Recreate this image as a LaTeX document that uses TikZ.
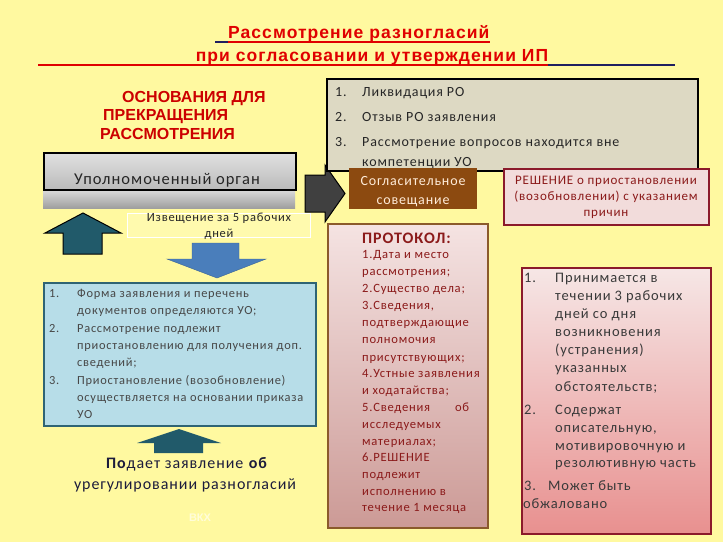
\documentclass[tikz,border=0pt]{standalone}
\usepackage{fontspec}
\setmainfont[LetterSpace=6]{Carlito}
\newfontfamily\titlefont[LetterSpace=6]{Liberation Sans}
\newfontfamily\headfont{Liberation Sans}
\definecolor{bgyel}{HTML}{FFF9A0}
\definecolor{titred}{HTML}{E00000}
\definecolor{navy}{HTML}{1F1F5F}
\definecolor{headred}{HTML}{CC0000}
\definecolor{teal}{HTML}{215A6A}
\definecolor{arrblue}{HTML}{4A7EBB}
\definecolor{lblue}{HTML}{B7DDE8}
\definecolor{lblueedge}{HTML}{2F6474}
\definecolor{beige}{HTML}{DDD9C3}
\definecolor{brownbox}{HTML}{8C4A10}
\definecolor{brownedge}{HTML}{8B5A2B}
\definecolor{pinkfill}{HTML}{F2DCDB}
\definecolor{wine}{HTML}{8B1A2B}
\definecolor{dred}{HTML}{8B1A1A}
\definecolor{txtgray}{HTML}{3A3A3A}
\definecolor{navytxt}{HTML}{1C1C3C}
\tikzset{
  box/.style={draw, line width=1.8pt, inner sep=0pt, anchor=north west},
  tl/.style={anchor=base west, inner sep=0pt},
  tc/.style={anchor=base, inner sep=0pt},
  arrowshape/.style={line width=1pt, line join=miter},
}
\begin{document}
\begin{tikzpicture}[x=1pt,y=-1pt]
\fill[bgyel] (0,0) rectangle (723,542);
\useasboundingbox (0,0) rectangle (723,542);

% title
\node[tl, font=\titlefont\bfseries\fontsize{17.5}{20}\selectfont, text=titred] (t1) at (228,38) {Рассмотрение разногласий};
\node[tc, font=\titlefont\bfseries\fontsize{17.5}{20}\selectfont, text=titred] (t2) at (372,61) {при согласовании и утверждении ИП};
\coordinate (u1a) at (215,42); \coordinate (u1b) at (228,42); \coordinate (u1c) at (t1.east |- u1a);
\draw[navy, line width=1.3pt] (u1a) -- (u1b);
\draw[titred, line width=1.3pt] (u1b) -- (u1c);
\coordinate (u2a) at (38,65); \coordinate (u2b) at (548,65); \coordinate (u2c) at (675,65);
\draw[titred, line width=1.3pt] (u2a) -- (u2b);
\draw[navy, line width=1.3pt] (u2b) -- (u2c);

% heading left
\node[tl, font=\headfont\bfseries\fontsize{16}{18}\selectfont, text=headred] (h1) at (122,102) {ОСНОВАНИЯ ДЛЯ};
\node[tl, font=\headfont\bfseries\fontsize{16}{18}\selectfont, text=headred] (h2) at (103,120) {ПРЕКРАЩЕНИЯ};
\node[tl, font=\headfont\bfseries\fontsize{16}{18}\selectfont, text=headred] (h3) at (100,139) {РАССМОТРЕНИЯ};

% dark right arrow (behind boxes)
\fill[black!75, draw=black, arrowshape] (305,175) -- (325,175) -- (325,165) -- (345,193.5) -- (325,222) -- (325,212) -- (305,212) -- cycle;

% authority box
\node[inner sep=0pt, anchor=north west, minimum width=252pt, minimum height=20pt, top color=black!12, bottom color=black!38] (band) at (43,188) {};
\node[box, minimum width=252pt, minimum height=37pt, top color=black!12, bottom color=black!27] (uo) at (43,152) {};
\node[tc, font=\fontsize{16.5}{18}\selectfont, text=black!85] (uotxt) at (167,184) {Уполномоченный орган};

% teal up arrow
\fill[teal, draw=black, arrowshape] (63,254) -- (63,233) -- (45,233) -- (83,213) -- (121,233) -- (102,233) -- (102,254) -- cycle;

% notice box
\node[draw=white, line width=0.8pt, fill=bgyel!85!white, inner sep=0pt, anchor=north west, minimum width=183pt, minimum height=24pt] (notice) at (127,213) {};
\node[tc, font=\fontsize{12.5}{14}\selectfont, text=black!85] (n1) at (219,221) {Извещение за 5 рабочих};
\node[tc, font=\fontsize{12.5}{14}\selectfont, text=black!85] (n2) at (219,237) {дней};

% blue down arrow
\fill[arrblue, draw=arrblue!80!black, line width=0.4pt] (192,243) -- (239,243) -- (239,259) -- (266,259) -- (217,278) -- (167,259) -- (192,259) -- cycle;

% light blue box
\node[box, fill=lblue, draw=lblueedge, minimum width=272pt, minimum height=143pt] (rules) at (43,282) {};
\foreach \myy/\mytxt [count=\i] in {293/{Форма заявления и перечень}, 310/{документов определяются УО;}, 328/{Рассмотрение подлежит}, 345/{приостановлению для получения доп.}, 362/{сведений;}, 380/{Приостановление (возобновление)}, 397/{осуществляется на основании приказа}, 414/{УО}}
  \node[tl, font=\fontsize{12.4}{14}\selectfont, text=black!72] (rl\i) at (77,{\myy+4}) {\mytxt};
\foreach \myy/\mytxt [count=\i] in {293/1., 328/2., 380/3.}
  \node[tl, font=\fontsize{12.4}{14}\selectfont, text=black!72] (rn\i) at (49,{\myy+4}) {\mytxt};

% bottom teal arrow
\fill[teal] (154,453) -- (154,443) -- (137,443) -- (179,429) -- (221,443) -- (203,443) -- (203,453) -- cycle;
\node[tc, font=\fontsize{16}{18}\selectfont, text=navytxt] (p1) at (187,468) {\textbf{По}дает заявление \textbf{об}};
\node[tc, font=\fontsize{16}{18}\selectfont, text=navytxt] (p2) at (185,489) {урегулировании разногласий};
\node[tc, font=\headfont\bfseries\fontsize{11}{13}\selectfont, text=yellow!15!white] (vkh) at (200,521) {ВКХ};

% top reasons box
\node[box, fill=beige, draw=black, line width=2pt, minimum width=371pt, minimum height=92pt] (reasons) at (326,78) {};
\foreach \myy/\mytxt [count=\i] in {96/{Ликвидация РО}, 121/{Отзыв РО заявления}, 146/{Рассмотрение вопросов находится вне}, 166/{компетенции УО}}
  \node[tl, font=\fontsize{14}{16}\selectfont, text=black!85] (rs\i) at (362,\myy) {\mytxt};
\foreach \myy/\mytxt [count=\i] in {96/1., 121/2., 146/3.}
  \node[tl, font=\fontsize{14}{16}\selectfont, text=black!85] (rsn\i) at (335,\myy) {\mytxt};

% conciliation meeting
\node[inner sep=0pt, anchor=north west, fill=brownbox, minimum width=128pt, minimum height=41pt] (meet) at (349,168) {};
\node[tc, font=\fontsize{14}{16}\selectfont, text=orange!15!white] (m1) at (413,185) {Согласительное};
\node[tc, font=\fontsize{14}{16}\selectfont, text=orange!15!white] (m2) at (413,204) {совещание};

% decision box
\node[box, fill=pinkfill, draw=wine, line width=1.6pt, minimum width=205pt, minimum height=56pt] (dec) at (503,168) {};
\node[tc, font=\fontsize{13}{15}\selectfont, text=dred] (d1) at (606,184) {РЕШЕНИЕ о приостановлении};
\node[tc, font=\fontsize{13}{15}\selectfont, text=dred] (d2) at (606,200) {(возобновлении) с указанием};
\node[tc, font=\fontsize{13}{15}\selectfont, text=dred] (d3) at (606,216) {причин};

% protocol box
\node[box, draw=brownedge, line width=1.6pt, top color=pinkfill!80!white, bottom color={rgb,255:red,204;green,154;blue,150}, minimum width=160pt, minimum height=304pt] (prot) at (327,223) {};
\node[tl, font=\fontsize{16}{18}\selectfont\bfseries, text=dred] (ph) at (362,243) {ПРОТОКОЛ:};
\foreach \myy/\mytxt [count=\i] in {254/{1.Дата и место}, 271/{рассмотрения;}, 288/{2.Существо дела;}, 305/{3.Сведения,}, 322/{подтверждающие}, 339/{полномочия}, 357/{присутствующих;}, 373/{4.Устные заявления}, 390/{и ходатайства;}, 407/{\makebox[107pt][l]{5.Сведения\hfill об}}, 424/{исследуемых}, 441/{материалах;}, 457/{6.РЕШЕНИЕ}, 474/{подлежит}, 491/{исполнению в}, 507/{течение 1 месяца}}
  \node[tl, font=\fontsize{12.6}{14}\selectfont, text=dred] (pl\i) at (362,{\myy+4}) {\mytxt};

% right box
\node[box, draw=wine, line width=1.6pt, top color=pinkfill!70!white, bottom color={rgb,255:red,232;green,144;blue,143}, minimum width=189pt, minimum height=266pt] (res) at (521,267) {};
\foreach \myy/\mytxt [count=\i] in {278/{Принимается в}, 296/{течении 3 рабочих}, 314/{дней со дня}, 332/{возникновения}, 350/{(устранения)}, 368/{указанных}, 387/{обстоятельств;}, 410/{Содержат}, 428/{описательную,}, 446/{мотивировочную и}, 463/{резолютивную часть}}
  \node[tl, font=\fontsize{14.5}{16}\selectfont, text=txtgray] (rt\i) at (555,{\myy+4}) {\mytxt};
\node[tl, font=\fontsize{14.5}{16}\selectfont, text=txtgray] (rtn1) at (524,282) {1.};
\node[tl, font=\fontsize{14.5}{16}\selectfont, text=txtgray] (rtn2) at (524,414) {2.};
\node[tl, font=\fontsize{14.5}{16}\selectfont, text=txtgray] (rtn3) at (524,490) {3.};
\node[tl, font=\fontsize{14.5}{16}\selectfont, text=txtgray] (rt12) at (548,490) {Может быть};
\node[tl, font=\fontsize{14.5}{16}\selectfont, text=txtgray] (rt13) at (523,508) {обжаловано};
\end{tikzpicture}
\end{document}
